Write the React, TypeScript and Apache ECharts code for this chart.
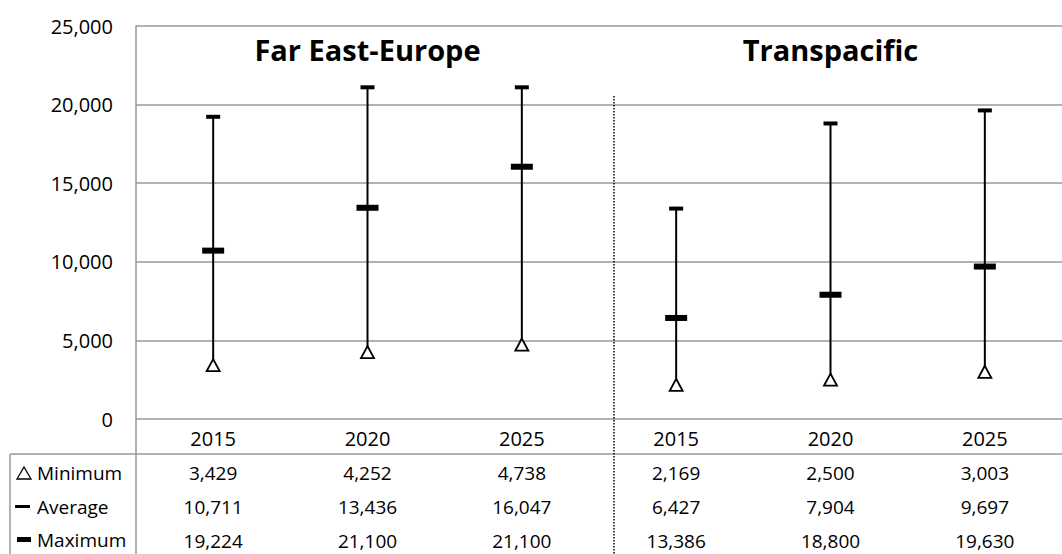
import React, { useEffect, useRef } from "react";
import * as echarts from "echarts";

const years = ["2015", "2020", "2025", "2015", "2020", "2025"];
const minimum = [3429, 4252, 4738, 2169, 2500, 3003];
const average = [10711, 13436, 16047, 6427, 7904, 9697];
const maximum = [19224, 21100, 21100, 13386, 18800, 19630];
const groupTitles = ["Far East-Europe", "Transpacific"];
const groupCenterIdx = [1, 4];
const rowLabels = ["Minimum", "Average", "Maximum"];
const yMin = 0;
const yMax = 25000;
const yInterval = 5000;

const FONT = "'Open Sans', sans-serif";
const fmt = (v: number) => v.toLocaleString("en-US");

export default function App() {
  const ref = useRef<HTMLDivElement>(null);
  useEffect(() => {
    if (!ref.current) return;
    const chart = echarts.init(ref.current, null, { renderer: "svg" });
    const idx = years.map((_, i) => i);
    chart.setOption({
      animation: false,
      textStyle: { fontFamily: FONT },
      grid: { left: 136, top: 26, width: 942, height: 393, containLabel: false },
      xAxis: {
        type: "category",
        data: idx.map((i) => "c" + i),
        axisLine: { show: false },
        axisTick: { show: false },
        splitLine: { show: false },
        axisLabel: {
          interval: 0,
          margin: 1,
          color: "#000",
          fontFamily: FONT,
          formatter: (_v: string, i: number) =>
            `{y|${years[i]}}\n{v|${fmt(minimum[i])}}\n{v|${fmt(average[i])}}\n{v|${fmt(maximum[i])}}`,
          rich: {
            y: { fontSize: 20, lineHeight: 36, fontFamily: FONT, color: "#000" },
            v: { fontSize: 19, lineHeight: 34, fontFamily: FONT, color: "#000" },
          },
        },
      },
      yAxis: {
        type: "value",
        min: yMin,
        max: yMax,
        interval: yInterval,
        axisLine: { show: true, lineStyle: { color: "#999", width: 1.5 } },
        axisTick: { show: false },
        splitLine: { show: true, lineStyle: { color: "#999", width: 1.5 } },
        axisLabel: {
          margin: 23,
          fontSize: 20,
          color: "#000",
          fontFamily: FONT,
          formatter: (v: number) => fmt(v),
        },
      },
      series: [
        {
          type: "custom",
          data: idx.map((i) => [i, minimum[i], maximum[i]]),
          encode: { x: 0, y: [1, 2] },
          renderItem: (params: any, api: any) => {
            const a = api.coord([api.value(0), api.value(1)]);
            const b = api.coord([api.value(0), api.value(2)]);
            return {
              type: "line",
              shape: { x1: a[0], y1: a[1], x2: b[0], y2: b[1] },
              style: { stroke: "#000", lineWidth: 2 },
            };
          },
          z: 2,
        },
        {
          type: "scatter",
          name: "Maximum",
          data: idx.map((i) => [i, maximum[i]]),
          symbol: "rect",
          symbolSize: [14, 4],
          itemStyle: { color: "#000", opacity: 1 },
          z: 3,
        },
        {
          type: "scatter",
          name: "Average",
          data: idx.map((i) => [i, average[i]]),
          symbol: "rect",
          symbolSize: [22, 6],
          itemStyle: { color: "#000", opacity: 1 },
          z: 3,
        },
        {
          type: "scatter",
          name: "Minimum",
          data: idx.map((i) => [i, minimum[i]]),
          symbol: "triangle",
          symbolSize: [13, 12],
          itemStyle: { color: "#fff", borderColor: "#000", borderWidth: 1.8, opacity: 1 },
          z: 4,
        },
      ],
    });

    const titleEls = groupTitles.map((t, g) => {
      const x = chart.convertToPixel({ xAxisIndex: 0 }, groupCenterIdx[g]) as number;
      return {
        type: "text",
        x,
        y: 49,
        style: {
          text: t,
          fontSize: 29,
          fontWeight: "bold",
          fontFamily: FONT,
          fill: "#000",
          align: "center",
          verticalAlign: "middle",
        },
      };
    });
    const rowYs = [473, 507, 540];
    const rowEls = rowLabels.map((t, r) => ({
      type: "text",
      x: 37,
      y: rowYs[r],
      style: {
        text: t,
        fontSize: 19,
        fontFamily: FONT,
        fill: "#000",
        align: "left",
        verticalAlign: "middle",
      },
    }));
    chart.setOption({
      graphic: [
        ...titleEls,
        ...rowEls,
        {
          type: "line",
          shape: { x1: 136, y1: 419, x2: 136, y2: 554 },
          style: { stroke: "#999", lineWidth: 1.5 },
        },
        {
          type: "line",
          shape: { x1: 10, y1: 454, x2: 1062, y2: 454 },
          style: { stroke: "#999", lineWidth: 1.5 },
        },
        {
          type: "line",
          shape: { x1: 10, y1: 454, x2: 10, y2: 554 },
          style: { stroke: "#999", lineWidth: 1.5 },
        },
        {
          type: "line",
          shape: { x1: 614, y1: 96, x2: 614, y2: 554 },
          style: { stroke: "#000", lineWidth: 1.5, lineDash: [1.5, 1.5] },
        },
        {
          type: "polygon",
          shape: { points: [[17, 479], [31, 479], [24, 467]] },
          style: { fill: "#fff", stroke: "#000", lineWidth: 1.3 },
        },
        {
          type: "rect",
          shape: { x: 15, y: 505, width: 15, height: 3 },
          style: { fill: "#000" },
        },
        {
          type: "rect",
          shape: { x: 17, y: 537, width: 14, height: 5 },
          style: { fill: "#000" },
        },
      ],
    });
    return () => chart.dispose();
  }, []);
  return (
    <div
      ref={ref}
      style={{ position: "absolute", left: 0, top: 0, width: 1062, height: 554, background: "#fff" }}
    />
  );
}
